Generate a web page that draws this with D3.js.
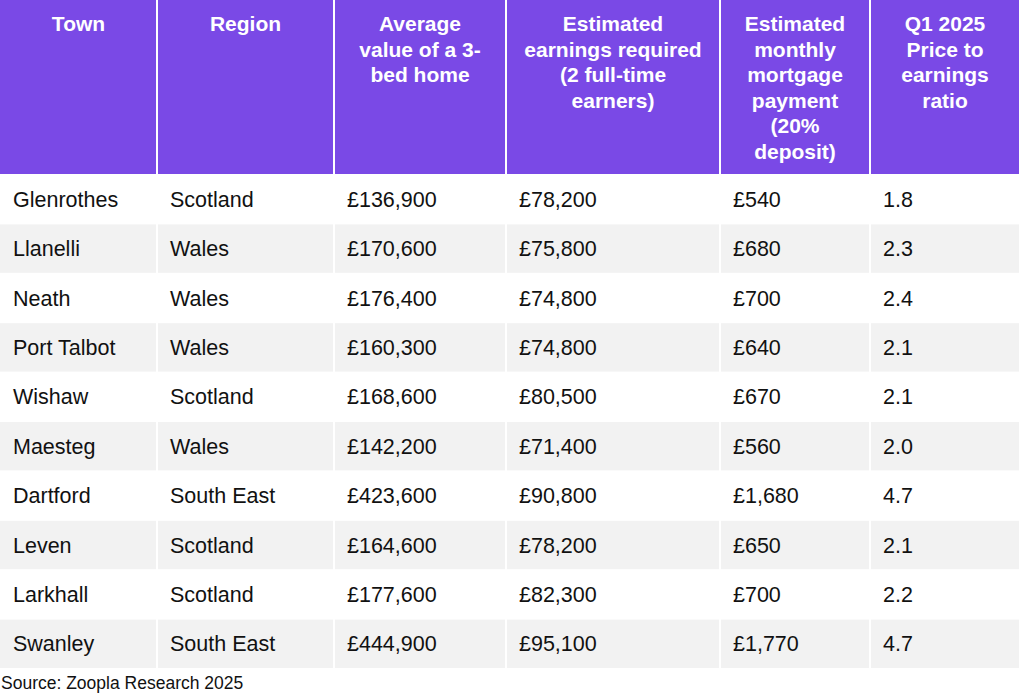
<!DOCTYPE html>
<html>
<head>
<meta charset="utf-8">
<script src="https://cdn.jsdelivr.net/npm/d3@7"></script>
<style>
  body { margin: 0; background: #fff; font-family: "Liberation Sans", Arial, sans-serif; }
</style>
</head>
<body>
<svg id="chart" width="1024" height="697"></svg>
<script>
const headers = [
    ["Town"],
    ["Region"],
    ["Average", "value of a 3-", "bed home"],
    ["Estimated", "earnings required", "(2 full-time", "earners)"],
    ["Estimated", "monthly", "mortgage", "payment", "(20%", "deposit)"],
    ["Q1 2025", "Price to", "earnings", "ratio"]
];
const towns = ["Glenrothes", "Llanelli", "Neath", "Port Talbot", "Wishaw", "Maesteg", "Dartford", "Leven", "Larkhall", "Swanley"];
const regions = ["Scotland", "Wales", "Wales", "Wales", "Scotland", "Wales", "South East", "Scotland", "Scotland", "South East"];
const homeValues = ["£136,900", "£170,600", "£176,400", "£160,300", "£168,600", "£142,200", "£423,600", "£164,600", "£177,600", "£444,900"];
const earnings = ["£78,200", "£75,800", "£74,800", "£74,800", "£80,500", "£71,400", "£90,800", "£78,200", "£82,300", "£95,100"];
const mortgages = ["£540", "£680", "£700", "£640", "£670", "£560", "£1,680", "£650", "£700", "£1,770"];
const ratios = ["1.8", "2.3", "2.4", "2.1", "2.1", "2.0", "4.7", "2.1", "2.2", "4.7"];
const colEdges = [0, 157, 334, 506, 720, 870, 1020];

const svg = d3.select("#chart");
const headerH = 174;
const columns = [towns, regions, homeValues, earnings, mortgages, ratios];

const y = d3.scaleBand().domain(d3.range(towns.length)).range([headerH, 668]);

// header cells
headers.forEach((lines, i) => {
    const x0 = colEdges[i], x1 = colEdges[i + 1];
    svg.append("rect")
        .attr("x", x0 + (i ? 1 : 0)).attr("y", 0)
        .attr("width", x1 - x0 - (i ? 1 : 0) - 1).attr("height", headerH)
        .attr("fill", "#7a49e6");
    const t = svg.append("text")
        .attr("text-anchor", "middle")
        .attr("fill", "#fff")
        .attr("font-weight", "bold")
        .attr("font-size", 21);
    lines.forEach((l, k) => {
        t.append("tspan").attr("x", (x0 + x1) / 2).attr("y", 31 + k * 25.5).text(l);
    });
});

// body rows
d3.range(towns.length).forEach(r => {
    columns.forEach((col, i) => {
        const x0 = colEdges[i], x1 = colEdges[i + 1];
        svg.append("rect")
            .attr("x", x0 + (i ? 1 : 0)).attr("y", y(r) + 1)
            .attr("width", x1 - x0 - (i ? 1 : 0) - 1).attr("height", y.bandwidth() - 1)
            .attr("fill", r % 2 ? "#f2f2f2" : "#fff");
        svg.append("text")
            .attr("x", x0 + 13)
            .attr("y", y(r) + y.bandwidth() / 2 + 8)
            .attr("font-size", 21.5)
            .attr("fill", "#111")
            .text(col[r]);
    });
});

svg.append("text")
    .attr("x", 1).attr("y", 689)
    .attr("font-size", 17.5)
    .attr("fill", "#111")
    .text("Source: Zoopla Research 2025");
</script>
</body>
</html>
